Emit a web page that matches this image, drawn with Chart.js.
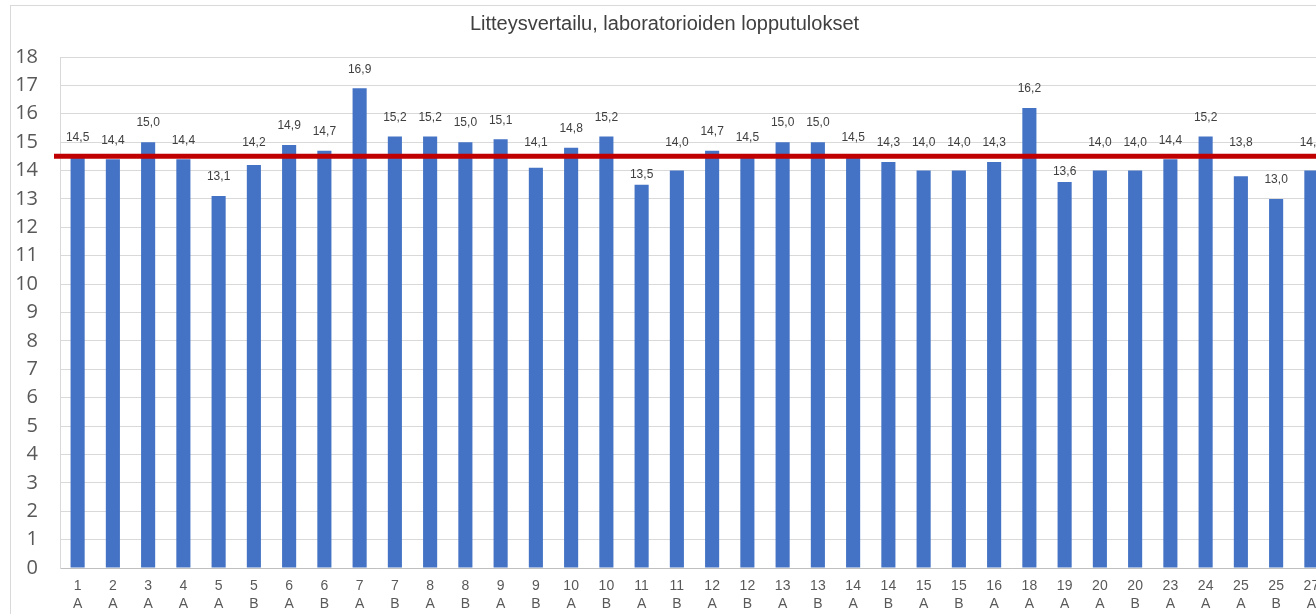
<!DOCTYPE html>
<html lang="fi">
<head>
<meta charset="utf-8">
<title>Litteysvertailu</title>
<script src="https://cdn.jsdelivr.net/npm/chart.js@4/dist/chart.umd.min.js"></script>
<style>
  html, body { margin: 0; padding: 0; background: #fff; overflow: hidden; }
  #kehys {
    position: absolute; left: 10px; top: 5px;
    width: 1400px; height: 700px;
    border: 1px solid #d9d9d9;
  }
  #kaavio { position: absolute; left: 0; top: 0; }
</style>
</head>
<body>
<div id="kehys"></div>
<canvas id="kaavio" width="1340" height="614"></canvas>
<script>
// Laboratorion numero ja näyte (A/B)
const laboratoriot = ['1','2','3','4','5','5','6','6','7','7','8','8','9','9','10','10','11','11',
    '12','12','13','13','14','14','15','15','16','18','19','20','20','23','24','25','25','27'];
const naytteet = ['A','A','A','A','A','B','A','B','A','B','A','B','A','B','A','B','A','B',
    'A','B','A','B','A','B','A','B','A','A','A','A','B','A','A','A','B','A'];
// Litteys, tulokset
const litteys = [14.5, 14.4, 15.0, 14.4, 13.1, 14.2, 14.9, 14.7, 16.9, 15.2, 15.2, 15.0, 15.1, 14.1,
    14.8, 15.2, 13.5, 14.0, 14.7, 14.5, 15.0, 15.0, 14.5, 14.3, 14.0, 14.0, 14.3, 16.2, 13.6, 14.0,
    14.0, 14.4, 15.2, 13.8, 13.0, 14.0];
const keskiarvo = 14.5;
const otsikko = 'Litteysvertailu, laboratorioiden lopputulokset';

const nimet = laboratoriot.map((l, i) => [l, naytteet[i]]);

function muotoile(v) {
    return v.toFixed(1).replace('.', ',');
}

// Keskiarvoviiva koko kaavion leveydelle
const keskiarvoViiva = {
    id: 'keskiarvoViiva',
    afterDatasetsDraw(chart) {
        const { ctx, chartArea, scales } = chart;
        const y = scales.y.getPixelForValue(keskiarvo);
        ctx.save();
        ctx.strokeStyle = '#c00000';
        ctx.lineWidth = 5;
        ctx.beginPath();
        ctx.moveTo(chartArea.left - 6, y);
        ctx.lineTo(chart.width, y);
        ctx.stroke();
        ctx.restore();
    }
};

// Arvot pylväiden päälle, siirretään pois keskiarvoviivan päältä
const arvoTekstit = {
    id: 'arvoTekstit',
    afterDraw(chart) {
        const { ctx } = chart;
        const meta = chart.getDatasetMeta(0);
        const viivaY = chart.scales.y.getPixelForValue(keskiarvo);
        ctx.save();
        ctx.font = '12px "Liberation Sans", Arial, sans-serif';
        ctx.fillStyle = '#404040';
        ctx.textAlign = 'center';
        ctx.textBaseline = 'middle';
        meta.data.forEach((bar, i) => {
            let y = bar.y - 19;
            if (Math.abs(y - viivaY) < 12) {
                y = (y < viivaY + 5) ? viivaY - 14 : bar.y - 10;
            }
            ctx.fillText(muotoile(litteys[i]), bar.x, y);
        });
        ctx.restore();
    }
};

const ctx = document.getElementById('kaavio').getContext('2d');
new Chart(ctx, {
    type: 'bar',
    data: {
        labels: nimet,
        datasets: [{
            data: litteys,
            backgroundColor: '#4472c4',
            barPercentage: 0.8,
            categoryPercentage: 0.5
        }]
    },
    options: {
        responsive: false,
        animation: false,
        layout: { padding: { top: 0, right: 11, bottom: 0, left: 0 } },
        plugins: {
            legend: { display: false },
            tooltip: { enabled: false },
            title: {
                display: true,
                text: otsikko,
                color: '#404040',
                font: { family: '"Liberation Sans", Arial, sans-serif', size: 20, weight: 'normal' },
                padding: { top: 12, bottom: 21 }
            }
        },
        scales: {
            x: {
                grid: { display: false, drawTicks: false },
                border: { color: '#bfbfbf', width: 1 },
                ticks: {
                    color: '#595959',
                    padding: 9,
                    maxRotation: 0,
                    autoSkip: false,
                    font: { family: '"Liberation Sans", Arial, sans-serif', size: 14, lineHeight: 1.3 }
                },
                afterFit(s) { s.height = 46; }
            },
            y: {
                min: 0,
                max: 18,
                grid: { color: '#d9d9d9', drawTicks: false },
                border: { color: '#d9d9d9' },
                ticks: {
                    stepSize: 1,
                    color: '#595959',
                    padding: 22,
                    font: { family: '"Open Sans", sans-serif', size: 20 }
                },
                afterFit(s) { s.width = 60; }
            }
        }
    },
    plugins: [keskiarvoViiva, arvoTekstit]
});
</script>
</body>
</html>
